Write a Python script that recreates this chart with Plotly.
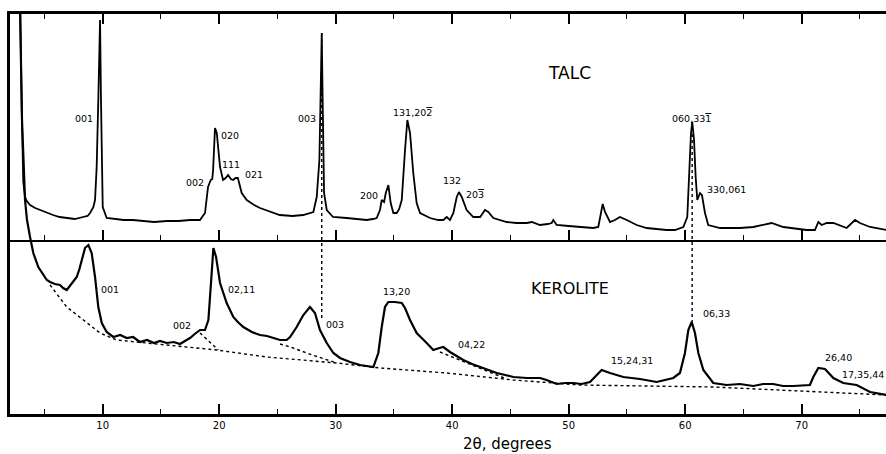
import plotly.graph_objects as go

# ---------------- data ----------------
# Talc pattern: 2-theta (deg) and intensity above the middle base line (arbitrary units)
talc_2theta = [2.80, 2.90, 3.05, 3.18, 3.33, 3.48, 3.76, 4.2, 4.62, 5.2, 5.73, 6.3, 6.91, 7.6, 8.31, 8.7,
               8.91, 9.2, 9.34, 9.48, 9.62, 9.77, 9.85, 9.93, 10.0, 10.34, 11.0, 11.8, 12.6, 13.5, 14.4,
               15.5, 16.5, 17.5, 18.35, 18.78, 19.04, 19.27, 19.4, 19.47, 19.64, 19.79, 20.07, 20.33,
               20.55, 20.76, 21.0, 21.2, 21.4, 21.6, 21.93, 22.36, 23.0, 23.5, 24.6, 25.2, 26.3, 27.2,
               28.08, 28.37, 28.6, 28.7, 28.8, 28.88, 29.0, 29.23, 29.77, 30.94, 31.8, 32.66, 33.2,
               33.52, 33.8, 33.95, 34.15, 34.3, 34.52, 34.72, 34.95, 35.24, 35.45, 35.67, 35.95, 36.15,
               36.38, 36.66, 36.95, 37.24, 38.1, 38.8, 39.24, 39.53, 39.81, 40.1, 40.39, 40.58, 40.82,
               41.24, 41.81, 42.4, 42.81, 43.1, 43.53, 44.68, 45.5, 46.4, 46.83, 47.54, 48.2, 48.54,
               48.68, 48.97, 50.0, 50.97, 52.1, 52.54, 52.75, 52.92, 53.12, 53.55, 53.97, 54.4, 54.98,
               55.84, 56.69, 57.5, 58.4, 59.12, 59.84, 60.18, 60.35, 60.5, 60.61, 60.76, 60.9, 61.04,
               61.27, 61.44, 61.7, 61.98, 62.99, 64.7, 65.85, 66.7, 67.42, 68.42, 69.5, 70.43, 71.14,
               71.43, 71.72, 72.15, 72.72, 73.15, 73.86, 74.58, 75.0, 75.87, 77.3]
talc_counts = [320, 227, 130, 59, 44, 40, 36, 33, 31, 28, 26, 24, 23, 22, 24, 25,
               28, 34, 41, 74, 141, 221, 141, 70, 34, 23, 22, 21, 21, 20, 19,
               20, 20, 21, 21, 28, 54, 61, 62, 70, 113, 108, 74, 61,
               63, 66, 62, 61, 63, 63, 48, 41, 36, 33, 28, 26, 25, 26,
               29, 44, 81, 141, 208, 141, 48, 31, 24, 23, 22, 21, 22,
               23, 31, 41, 39, 48, 56, 38, 28, 28, 32, 41, 91, 121,
               108, 68, 38, 28, 23, 21, 21, 24, 21, 28, 44, 49, 44,
               31, 24, 24, 31, 29, 23, 19, 18, 18, 19, 16, 17, 18,
               21, 16, 15, 14, 13, 14, 28, 37, 29, 19, 21, 24, 21,
               16, 13, 12, 11, 11, 14, 24, 74, 108, 119, 101, 64, 41,
               48, 46, 28, 16, 13, 13, 14, 16, 18, 14, 12, 11, 11,
               19, 16, 18, 18, 16, 13, 21, 18, 14, 11]

# Kerolite pattern: 2-theta (deg) and intensity above the bottom axis (arbitrary units)
kerolite_2theta = [2.85, 3.07, 3.33, 3.5, 3.76, 4.04, 4.47, 4.9, 5.2, 5.48, 5.9, 6.33, 6.6, 6.91, 7.1,
                   7.34, 7.77, 8.0, 8.2, 8.48, 8.77, 9.05, 9.34, 9.62, 9.92, 10.34, 10.91, 11.5, 12.06,
                   12.6, 13.2, 13.8, 14.4, 14.92, 15.5, 16.1, 16.63, 17.1, 17.49, 17.9, 18.35, 18.78,
                   19.07, 19.27, 19.5, 19.73, 20.07, 20.64, 21.21, 21.6, 22.07, 22.8, 23.5, 24.1, 24.65,
                   25.22, 25.79, 26.08, 26.65, 27.22, 27.79, 28.22, 28.65, 29.23, 29.8, 30.37, 31.23,
                   32.09, 33.23, 33.66, 33.95, 34.23, 34.52, 35.09, 35.67, 35.95, 36.38, 36.95, 37.81,
                   38.38, 38.9, 39.24, 39.81, 40.95, 41.7, 42.4, 43.82, 45.25, 46.4, 47.54, 48.1, 48.97,
                   49.7, 50.4, 51.1, 51.83, 52.4, 52.83, 53.55, 54.69, 56.12, 57.55, 58.98, 59.55, 59.98,
                   60.27, 60.56, 60.84, 61.13, 61.56, 62.41, 63.56, 64.7, 65.85, 66.7, 67.56, 68.4, 69.28,
                   70.71, 71.0, 71.43, 72.0, 72.72, 73.57, 74.72, 75.87, 77.3]
kerolite_counts = [440, 294, 214, 194, 177, 161, 147, 139, 134, 132, 130, 129, 126, 124, 127,
                   131, 137, 145, 154, 166, 169, 161, 137, 107, 91, 82, 77, 79, 76,
                   77, 72, 74, 71, 73, 71, 72, 70, 73, 76, 80, 84, 84,
                   94, 127, 166, 157, 131, 111, 97, 92, 87, 82, 79, 78, 76,
                   74, 74, 77, 87, 99, 107, 101, 84, 71, 61, 56, 52,
                   49, 47, 61, 87, 107, 112, 112, 111, 106, 94, 81, 71,
                   64, 66, 67, 62, 54, 50, 47, 41, 37, 36, 36, 34, 30,
                   31, 31, 30, 32, 39, 44, 41, 37, 35, 32, 36, 41, 61,
                   84, 92, 81, 61, 44, 31, 29, 30, 28, 30, 30, 28, 28,
                   29, 37, 46, 45, 36, 31, 29, 22, 19]

# Dotted background curves under the kerolite pattern
bg_main_2theta = [5.48, 6.91, 8.34, 9.77, 11.2, 16.92, 19.78, 24.08, 26.94, 30.09, 33.8, 39.53, 45.25,
                  50.97, 62.41, 69.5, 77.3]
bg_main_counts = [129, 107, 94, 81, 74, 67, 64, 57, 54, 51, 46, 41, 34, 29, 27, 23, 19]
bg_0211_2theta = [18.35, 19.92]
bg_0211_counts = [81, 64]
bg_003_2theta = [25.22, 26.1, 28.0, 30.09]
bg_003_counts = [70, 67, 59, 51]
bg_0422_2theta = [38.95, 41.5, 44.68]
bg_0422_counts = [62, 50, 35]

# Dotted connectors from talc peaks down to the kerolite pattern
connector_2theta = [28.8, 60.6]
connector_talc_top = [208, 119]
connector_kerolite_end = [94, 92]

# Reflection labels: (text, 2-theta, intensity); a bar over a digit uses an overline span
OVER = '<span style="text-decoration:overline">{}</span>'
talc_labels = [("001", 8.40, 123), ("020", 20.93, 106), ("111", 21.01, 77), ("021", 22.99, 67),
               ("002", 17.92, 59), ("003", 27.51, 123), ("131,20" + OVER.format("2"), 36.55, 129),
               ("200", 32.86, 46), ("132", 39.98, 61), ("20" + OVER.format("3"), 41.96, 47),
               ("060,33" + OVER.format("1"), 60.5, 123), ("330,061", 63.59, 52)]
kerolite_labels = [("001", 10.63, 125), ("02,11", 21.93, 125), ("002", 16.81, 89), ("003", 29.94, 90),
                   ("13,20", 35.26, 123), ("04,22", 41.68, 70), ("15,24,31", 55.41, 54),
                   ("06,33", 62.7, 101), ("26,40", 73.2, 57)]
kerolite_edge_label = ("17,35,44", 77.2, 40)
talc_title = ("TALC", 50.11, 168)
kerolite_title = ("KEROLITE", 50.11, 126)

tick_vals = [10, 20, 30, 40, 50, 60, 70]
tick_text = ["10", "20", "30", "40", "50", "60", "70"]
x_title = "2\u03b8, degrees"

# ---------------- figure ----------------
X_RANGE = [2.04, 77.24]
KER_RANGE = [0, 400]
TALC_RANGE = [-173, 227]
talc_to_ker = KER_RANGE[1] - TALC_RANGE[1]
mid_pos = -TALC_RANGE[0] / (TALC_RANGE[1] - TALC_RANGE[0])

FONT = "DejaVu Sans"
fig = go.Figure()

dot = dict(color="black", width=1.4, dash="dot")
for bx, by in [(bg_main_2theta, bg_main_counts), (bg_0211_2theta, bg_0211_counts),
               (bg_003_2theta, bg_003_counts), (bg_0422_2theta, bg_0422_counts)]:
    fig.add_trace(go.Scatter(x=bx, y=by, mode="lines", line=dot, hoverinfo="skip", showlegend=False))

for cx, ct, ck in zip(connector_2theta, connector_talc_top, connector_kerolite_end):
    fig.add_trace(go.Scatter(x=[cx, cx], y=[ct + talc_to_ker, ck], mode="lines", line=dot,
                             hoverinfo="skip", showlegend=False))

fig.add_trace(go.Scatter(x=kerolite_2theta, y=kerolite_counts, mode="lines",
                         line=dict(color="black", width=2.2), showlegend=False))
fig.add_trace(go.Scatter(x=talc_2theta, y=talc_counts, mode="lines", xaxis="x2", yaxis="y2",
                         line=dict(color="black", width=1.8), showlegend=False))

ann = []
for t, x, y in talc_labels:
    ann.append(dict(text=t, x=x, y=y, xref="x", yref="y2", showarrow=False,
                    font=dict(family=FONT, size=9.5, color="black")))
for t, x, y in kerolite_labels:
    ann.append(dict(text=t, x=x, y=y, xref="x", yref="y", showarrow=False,
                    font=dict(family=FONT, size=9.5, color="black")))
t, x, y = kerolite_edge_label
ann.append(dict(text=t, x=x, y=y, xref="x", yref="y", showarrow=False, xanchor="right",
                font=dict(family=FONT, size=9.5, color="black")))
t, x, y = talc_title
ann.append(dict(text=t, x=x, y=y, xref="x", yref="y2", showarrow=False,
                font=dict(family=FONT, size=17, color="black")))
t, x, y = kerolite_title
ann.append(dict(text=t, x=x, y=y, xref="x", yref="y", showarrow=False,
                font=dict(family=FONT, size=16, color="black")))
ann.append(dict(text=x_title, x=0.5674, y=-0.074, xref="paper", yref="paper", showarrow=False,
                yanchor="middle", xanchor="center",
                font=dict(family=FONT, size=15, color="black")))

minor_ticks = dict(dtick=5, tick0=0, ticks="inside", ticklen=5, tickwidth=1.3, tickcolor="black",
                   showgrid=False)
fig.update_layout(
    width=886, height=454,
    margin=dict(l=10, r=0, t=14, b=40),
    paper_bgcolor="white", plot_bgcolor="white",
    showlegend=False,
    annotations=ann,
    xaxis=dict(range=X_RANGE, showgrid=False, zeroline=False, showline=True, linecolor="black",
               linewidth=2.5, mirror="ticks", ticks="inside", tickvals=tick_vals, ticktext=tick_text,
               ticklen=10, tickwidth=1.5, tickcolor="black",
               tickfont=dict(family=FONT, size=10, color="black"),
               minor=minor_ticks),
    xaxis2=dict(range=X_RANGE, overlaying="x", anchor="free", position=mid_pos, side="bottom",
                showgrid=False, zeroline=False, showline=True, linecolor="black", linewidth=2,
                ticks="inside", tickvals=tick_vals, ticklen=10, tickwidth=1.5, tickcolor="black",
                showticklabels=False, minor=minor_ticks),
    yaxis=dict(range=KER_RANGE, showgrid=False, zeroline=False, showline=True, linecolor="black",
               linewidth=2.5, ticks="", showticklabels=False),
    yaxis2=dict(range=TALC_RANGE, overlaying="y", anchor="x2", visible=False),
)

fig.write_html("out.html")
